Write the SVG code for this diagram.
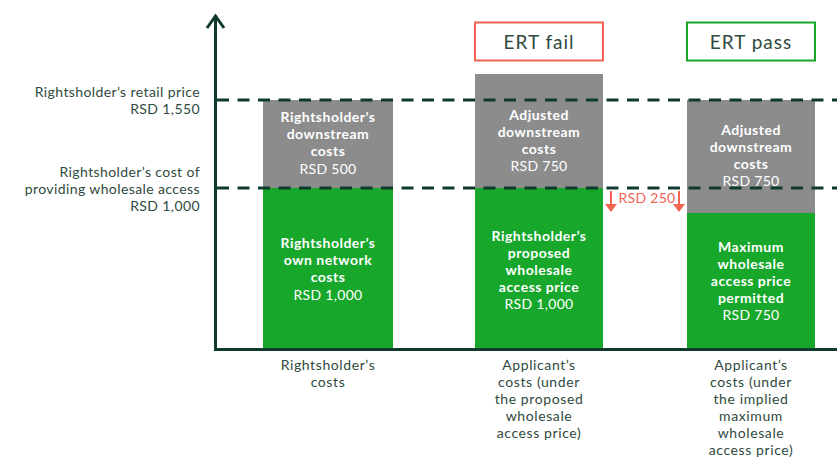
<svg xmlns="http://www.w3.org/2000/svg" width="837" height="459" viewBox="0 0 837 459">
  <style>
    text { font-family: Lato, "Open Sans", "Liberation Sans", sans-serif; }
    .lblr { font-size: 14px; letter-spacing: 0.4px; fill: #2f4a40; text-anchor: end; }
    .bx { font-size: 14px; letter-spacing: 0.5px; fill: #ffffff; font-weight: bold; text-anchor: middle; }
    .bxv { font-size: 14px; letter-spacing: 0.3px; fill: #ffffff; text-anchor: middle; }
    .cat { font-size: 14px; letter-spacing: 0.6px; fill: #2f4a40; text-anchor: middle; }
    .gray { fill: #8c8c8c; }
    .green { fill: #16a72b; }
    .dash { stroke: #0e3b2e; stroke-width: 3; stroke-dasharray: 12 8.5; fill: none; }
    .axis { stroke: #0e3b2e; stroke-width: 3; fill: none; }
    .red { stroke: #f26452; stroke-width: 2; fill: none; }
    .redhead { fill: #f26452; }
  </style>

  <rect width="837" height="459" fill="#ffffff"/>

  <!-- bar 1: rightsholder's costs -->
  <g id="bar-rightsholder">
    <rect class="gray" x="263" y="100" width="130" height="88"/>
    <rect class="green" x="263" y="188" width="130" height="162"/>
    <text class="bx" x="328" y="122">Rightsholder’s</text>
    <text class="bx" x="328" y="139">downstream</text>
    <text class="bx" x="328" y="156">costs</text>
    <text class="bxv" x="328" y="174">RSD 500</text>
    <text class="bx" x="328" y="248">Rightsholder’s</text>
    <text class="bx" x="328" y="265">own network</text>
    <text class="bx" x="328" y="282">costs</text>
    <text class="bxv" x="328" y="300">RSD 1,000</text>
  </g>

  <!-- bar 2: applicant's costs, proposed price -->
  <g id="bar-proposed">
    <rect class="gray" x="475" y="74" width="128" height="114"/>
    <rect class="green" x="475" y="188" width="128" height="162"/>
    <text class="bx" x="539" y="120">Adjusted</text>
    <text class="bx" x="539" y="137">downstream</text>
    <text class="bx" x="539" y="154">costs</text>
    <text class="bxv" x="539" y="171">RSD 750</text>
    <text class="bx" x="539" y="241">Rightsholder’s</text>
    <text class="bx" x="539" y="258">proposed</text>
    <text class="bx" x="539" y="275">wholesale</text>
    <text class="bx" x="539" y="292">access price</text>
    <text class="bxv" x="539" y="309">RSD 1,000</text>
  </g>

  <!-- bar 3: applicant's costs, maximum price -->
  <g id="bar-maximum">
    <rect class="gray" x="687" y="100" width="128" height="113"/>
    <rect class="green" x="687" y="213" width="128" height="137"/>
    <text class="bx" x="751" y="135">Adjusted</text>
    <text class="bx" x="751" y="152">downstream</text>
    <text class="bx" x="751" y="169">costs</text>
    <text class="bxv" x="751" y="186">RSD 750</text>
    <text class="bx" x="751" y="252">Maximum</text>
    <text class="bx" x="751" y="269">wholesale</text>
    <text class="bx" x="751" y="286">access price</text>
    <text class="bx" x="751" y="303">permitted</text>
    <text class="bxv" x="751" y="320">RSD 750</text>
  </g>

  <!-- test result boxes -->
  <g id="ert-fail">
    <rect x="475" y="22.5" width="128" height="38" fill="#ffffff" stroke="#f26452" stroke-width="2"/>
    <text x="539" y="49" font-size="19" letter-spacing="1" fill="#2f4a40" text-anchor="middle">ERT fail</text>
  </g>
  <g id="ert-pass">
    <rect x="687" y="22.5" width="128" height="38" fill="#ffffff" stroke="#16a72b" stroke-width="2"/>
    <text x="751" y="49" font-size="19" letter-spacing="1" fill="#2f4a40" text-anchor="middle">ERT pass</text>
  </g>

  <!-- reference levels, axes and the price gap -->
  <g id="connectors">
    <line class="dash" x1="217" y1="100" x2="837" y2="100"/>
    <line class="dash" x1="217" y1="188" x2="837" y2="188"/>
    <polyline class="axis" points="215.5,15 215.5,349.5 837,349.5"/>
    <polyline class="axis" points="207,28 215.5,16 224,28" stroke-linejoin="miter"/>
    <line class="red" x1="611" y1="191" x2="611" y2="205"/>
    <polygon class="redhead" points="605,204 617,204 611,212"/>
    <line class="red" x1="679" y1="191" x2="679" y2="205"/>
    <polygon class="redhead" points="673,204 685,204 679,212"/>
  </g>
  <text x="647" y="203" font-size="14" letter-spacing="0.3" fill="#f26452" text-anchor="middle">RSD 250</text>

  <!-- axis labels -->
  <g id="level-labels">
    <text class="lblr" x="200" y="97">Rightsholder’s retail price</text>
    <text class="lblr" x="200" y="114">RSD 1,550</text>
    <text class="lblr" x="200" y="177">Rightsholder’s cost of</text>
    <text class="lblr" x="200" y="194">providing wholesale access</text>
    <text class="lblr" x="200" y="211">RSD 1,000</text>
  </g>

  <!-- category labels -->
  <g id="categories">
    <text class="cat" x="328" y="370">Rightsholder’s</text>
    <text class="cat" x="328" y="387">costs</text>
    <text class="cat" x="539" y="370">Applicant’s</text>
    <text class="cat" x="539" y="387">costs (under</text>
    <text class="cat" x="539" y="404">the proposed</text>
    <text class="cat" x="539" y="421">wholesale</text>
    <text class="cat" x="539" y="438">access price)</text>
    <text class="cat" x="751" y="370">Applicant’s</text>
    <text class="cat" x="751" y="387">costs (under</text>
    <text class="cat" x="751" y="404">the implied</text>
    <text class="cat" x="751" y="421">maximum</text>
    <text class="cat" x="751" y="438">wholesale</text>
    <text class="cat" x="751" y="455">access price)</text>
  </g>
</svg>
